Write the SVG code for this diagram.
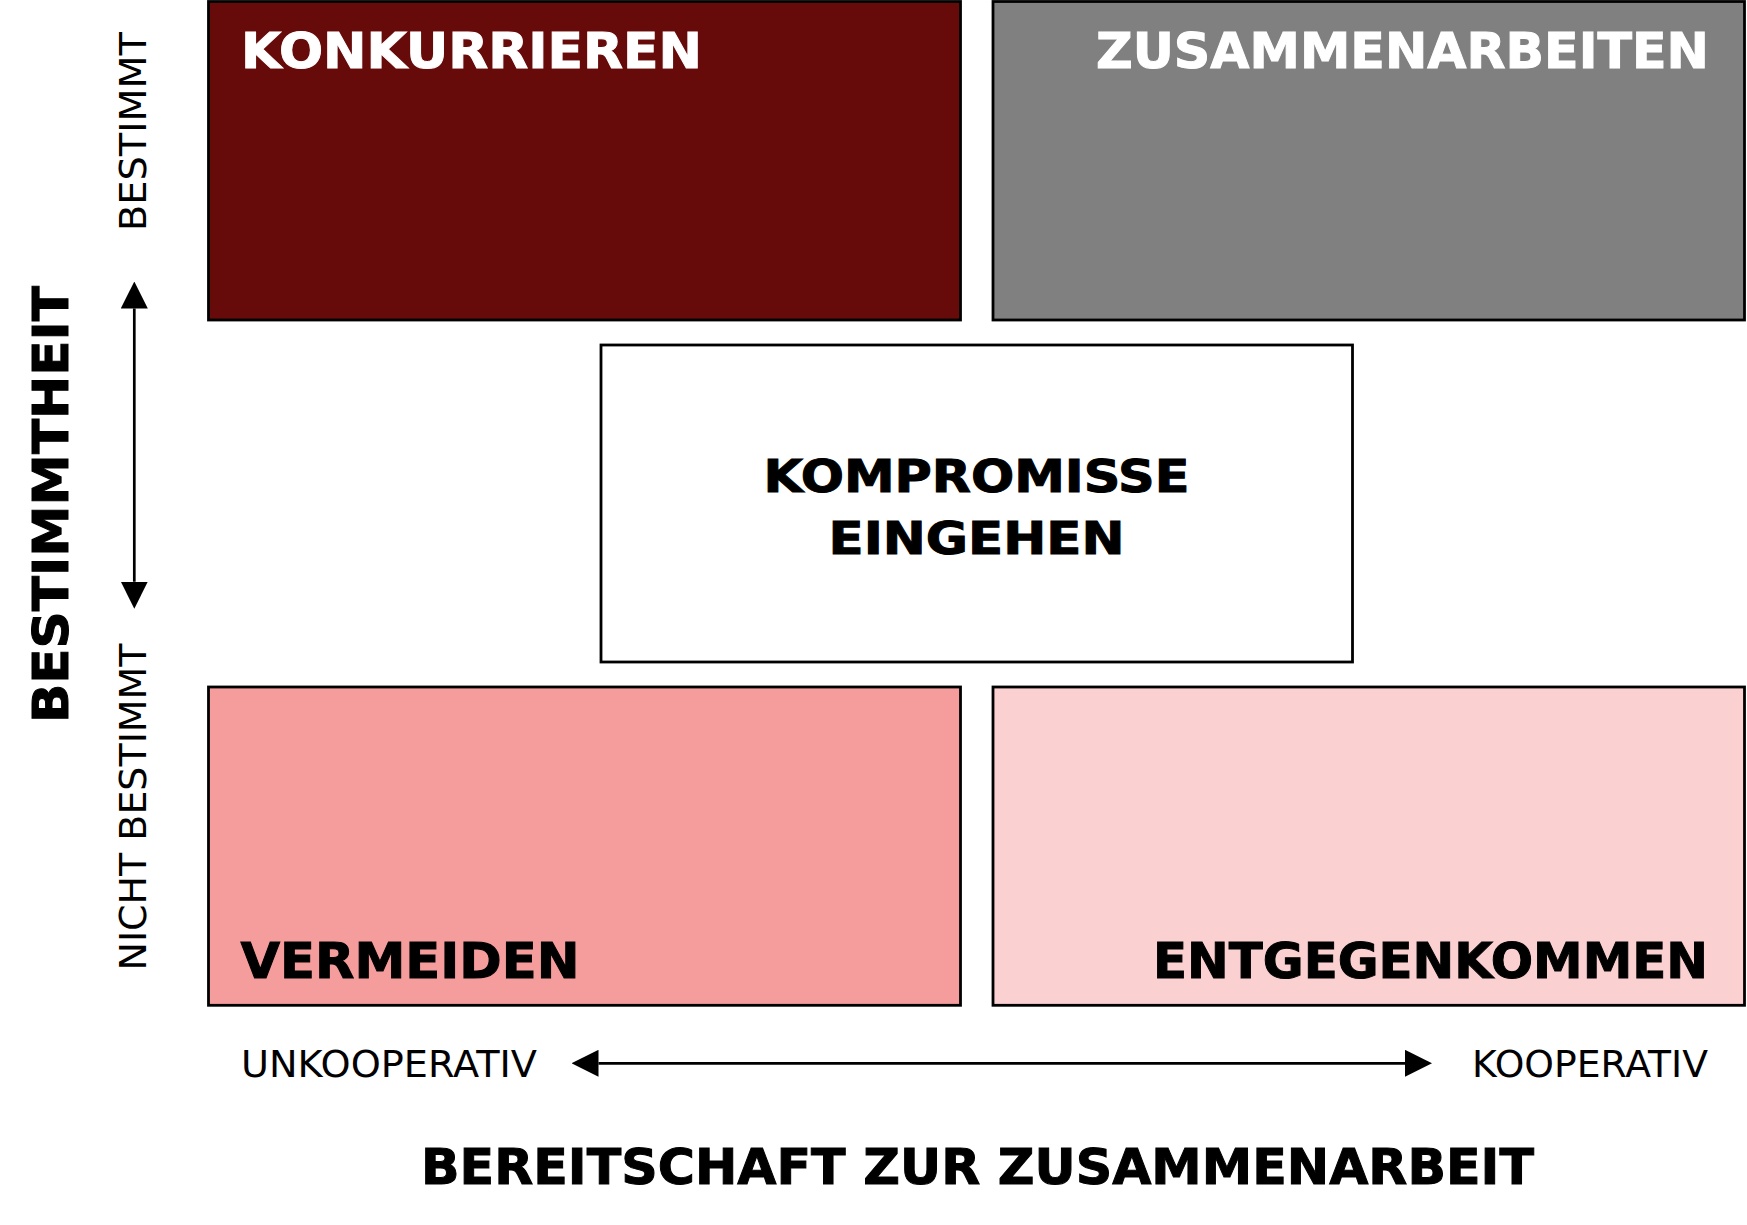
<svg xmlns="http://www.w3.org/2000/svg" width="1747" height="1225" viewBox="0 0 1747 1225">
<style>
.box{stroke:#000;stroke-width:2.8}
.big{font-family:"DejaVu Sans","Verdana",sans-serif;font-weight:bold;font-size:50px;stroke-width:1}
.mid{font-family:"DejaVu Sans","Verdana",sans-serif;font-weight:bold;font-size:44px;stroke-width:1}
.small{font-family:"DejaVu Sans","Verdana",sans-serif;font-size:37px}
.w{fill:#fff;stroke:#fff}
.k{fill:#000;stroke:#000}
.conn{stroke:#000;stroke-width:2.7;fill:none}
</style>
<defs>
<marker id="ah" viewBox="0 0 27 27" refX="0" refY="13.5" markerWidth="27" markerHeight="27" markerUnits="userSpaceOnUse" orient="auto-start-reverse">
<path d="M0,0 L27,13.5 L0,27 Z" fill="#000"/>
</marker>
</defs>
<rect width="1747" height="1225" fill="#fff"/>
<g id="konkurrieren">
<rect class="box" x="208.5" y="1.5" width="752" height="318.5" fill="#670A0A"/>
<text class="big w" x="241" y="68.3" textLength="461" lengthAdjust="spacingAndGlyphs">KONKURRIEREN</text>
</g>
<g id="zusammenarbeiten">
<rect class="box" x="993" y="1.5" width="751.5" height="318.5" fill="#808080"/>
<text class="big w" x="1709" y="68.3" text-anchor="end" textLength="613" lengthAdjust="spacingAndGlyphs">ZUSAMMENARBEITEN</text>
</g>
<g id="kompromisse">
<rect class="box" x="601" y="345" width="751.5" height="317" fill="#fff"/>
<text class="mid k" x="976.5" y="492.3" text-anchor="middle" textLength="426" lengthAdjust="spacingAndGlyphs">KOMPROMISSE</text>
<text class="mid k" x="976.5" y="554" text-anchor="middle" textLength="296" lengthAdjust="spacingAndGlyphs">EINGEHEN</text>
</g>
<g id="vermeiden">
<rect class="box" x="208.5" y="687" width="752" height="318.3" fill="#F59D9D"/>
<text class="big k" x="240.5" y="978.3" textLength="339" lengthAdjust="spacingAndGlyphs">VERMEIDEN</text>
</g>
<g id="entgegenkommen">
<rect class="box" x="993" y="687" width="751.5" height="318.3" fill="#FAD0D1"/>
<text class="big k" x="1708" y="978.3" text-anchor="end" textLength="555" lengthAdjust="spacingAndGlyphs">ENTGEGENKOMMEN</text>
</g>
<g id="connectors">
<path class="conn" d="M134.3,308.5 V581.7" marker-start="url(#ah)" marker-end="url(#ah)"/>
<path class="conn" d="M598.5,1063.3 H1405" marker-start="url(#ah)" marker-end="url(#ah)"/>
</g>
<g id="axis-labels">
<text class="big k" transform="translate(67.5,723) rotate(-90)" textLength="437" lengthAdjust="spacingAndGlyphs">BESTIMMTHEIT</text>
<text class="small" transform="translate(146,231) rotate(-90)" textLength="199" lengthAdjust="spacingAndGlyphs">BESTIMMT</text>
<text class="small" transform="translate(146,970.5) rotate(-90)" textLength="327" lengthAdjust="spacingAndGlyphs">NICHT BESTIMMT</text>
<text class="small" x="241" y="1076.7" textLength="296" lengthAdjust="spacingAndGlyphs">UNKOOPERATIV</text>
<text class="small" x="1708" y="1076.7" text-anchor="end" textLength="236" lengthAdjust="spacingAndGlyphs">KOOPERATIV</text>
<text class="big k" x="977.5" y="1184" text-anchor="middle" textLength="1113" lengthAdjust="spacingAndGlyphs">BEREITSCHAFT ZUR ZUSAMMENARBEIT</text>
</g>
</svg>
